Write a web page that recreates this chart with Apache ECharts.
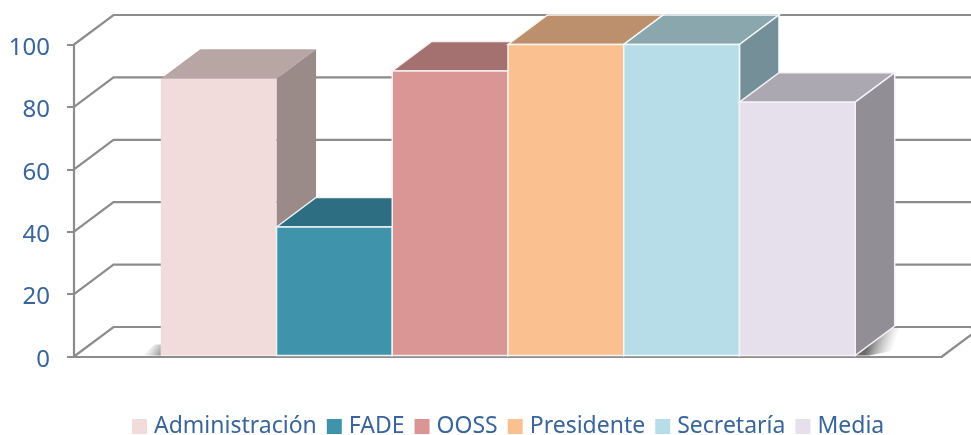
<!DOCTYPE html>
<html>
<head>
<meta charset="utf-8">
<style>
  html, body { margin: 0; padding: 0; background: #fff; }
  #chart { width: 971px; height: 435px; }
</style>
<script src="https://cdn.jsdelivr.net/npm/echarts@6/dist/echarts.min.js"></script>
</head>
<body>
<div id="chart"></div>
<script>
const categories = ['Administración', 'FADE', 'OOSS', 'Presidente', 'Secretaría', 'Media'];
const values = [89, 41.5, 91.5, 100, 100, 81.5];
const yTicks = [0, 20, 40, 60, 80, 100];

const frontColors = ['#F2DCDB', '#3F94AC', '#DA9694', '#FAC090', '#B7DEE8', '#E6E0EC'];
const topColors = ['#B8A6A5', '#2E6E82', '#A57070', '#BC906C', '#8AA7AE', '#ACA8B1'];
const sideColors = ['#9A8A88', '#275C6D', '#895D5C', '#9D785A', '#748F97', '#918E96'];
const edgeColors = ['transparent', '#EEF3F5', '#F4F0F0', '#FBF3EC', '#F3F8FA', '#F4F2F6'];

const DEPTH_X = 39.5;
const DEPTH_Y = 29.5;
const AXIS_GREY = '#8C8C8C';
const TEXT_BLUE = '#3A659B';
const FONT = '"Noto Sans", sans-serif';

const chart = echarts.init(document.getElementById('chart'), null, { renderer: 'canvas' });

function poly(points, fill, stroke, lineWidth) {
  return {
    type: 'polygon',
    shape: { points: points },
    style: { fill: fill, stroke: stroke, lineWidth: lineWidth || 0 }
  };
}

function fade(x, y, x2, y2, alpha) {
  return {
    type: 'linear', global: true, x: x, y: y, x2: x2, y2: y2,
    colorStops: [{ offset: 0, color: 'rgba(70,70,70,' + alpha + ')' }, { offset: 1, color: 'rgba(150,150,150,0)' }]
  };
}

// back wall and floor lines, one per tick
function renderWall(params, api) {
  const v = api.value(0);
  const y = api.coord(['all', v])[1];
  const x0 = params.coordSys.x;
  const right = x0 + params.coordSys.width;
  const children = [{
    type: 'polyline',
    shape: { points: [[x0, y], [x0 + DEPTH_X, y - DEPTH_Y], [right + DEPTH_X, y - DEPTH_Y]] },
    style: { fill: null, stroke: AXIS_GREY, lineWidth: 2.2 }
  }];
  if (v === 0) {
    children.push({
      type: 'line',
      shape: { x1: right, y1: y, x2: right + DEPTH_X, y2: y - DEPTH_Y },
      style: { stroke: AXIS_GREY, lineWidth: 2.2 }
    });
  }
  return { type: 'group', children: children };
}

function makeBarRenderer(i) {
  return function (params, api) {
    const band = api.size(['all', 0])[0];
    const barW = band * 0.8 / categories.length;
    const center = api.coord(['all', 0])[0];
    const x1 = center - band * 0.4 + barW * i;
    const x2 = x1 + barW;
    const yTop = api.coord(['all', api.value(0)])[1];
    const yBase = api.coord(['all', 0])[1] - 1;
    const e = edgeColors[i];
    const children = [];
    // soft floor shadow on the two outer bars
    if (i === 0) {
      children.push(poly(
        [[x1 - 18, yBase], [x1 - 6, yBase - 11], [x1, yBase - 11], [x1, yBase]],
        fade(x1, yBase, x1 - 14, yBase - 8, 0.6)
      ));
    }
    if (i === categories.length - 1) {
      children.push(poly(
        [[x2, yBase], [x2 + DEPTH_X, yBase - DEPTH_Y], [x2 + DEPTH_X + 22, yBase - DEPTH_Y], [x2 + 44, yBase - 6], [x2 + 14, yBase]],
        fade(x2 + 14, yBase - 14, x2 + 38, yBase - 6, 0.8)
      ));
    }
    children.push(
      poly([[x1, yTop], [x1 + DEPTH_X, yTop - DEPTH_Y], [x2 + DEPTH_X, yTop - DEPTH_Y], [x2, yTop]], topColors[i], e, 1.5),
      poly([[x2, yTop], [x2 + DEPTH_X, yTop - DEPTH_Y], [x2 + DEPTH_X, yBase - DEPTH_Y], [x2, yBase]], sideColors[i], e, 1.5),
      poly([[x1, yTop], [x2, yTop], [x2, yBase], [x1, yBase]], frontColors[i], e, 1.5)
    );
    return { type: 'group', children: children };
  };
}

const barSeries = categories.map((name, i) => ({
  name: name,
  type: 'custom',
  coordinateSystem: 'cartesian2d',
  itemStyle: { color: frontColors[i] },
  encode: { y: 0 },
  clip: false,
  z: 3,
  renderItem: makeBarRenderer(i),
  data: [[values[i]]]
}));

chart.setOption({
  animation: false,
  backgroundColor: '#ffffff',
  grid: { left: 74, right: 29, top: 44.5, bottom: 78.5 },
  legend: {
    data: categories,
    left: 127,
    top: 410,
    icon: 'rect',
    itemWidth: 15,
    itemHeight: 15,
    itemGap: 10,
    textStyle: { color: TEXT_BLUE, fontSize: 23, fontFamily: FONT, padding: [0, 0, 0, 2] }
  },
  xAxis: {
    type: 'category',
    data: ['all'],
    axisLine: { lineStyle: { color: AXIS_GREY, width: 2.2 } },
    axisTick: { show: false },
    axisLabel: { show: false },
    splitLine: { show: false }
  },
  yAxis: {
    type: 'value',
    min: 0,
    max: 100,
    interval: 20,
    axisLine: { show: true, lineStyle: { color: AXIS_GREY, width: 2.2 } },
    axisTick: { show: true, length: 7, lineStyle: { color: AXIS_GREY, width: 2 } },
    axisLabel: {
      margin: 24,
      formatter: '{v|{value}}',
      rich: { v: { color: TEXT_BLUE, fontSize: 24, fontFamily: FONT, padding: [7, 0, 0, 0] } }
    },
    splitLine: { show: false }
  },
  series: [{
    name: 'walls',
    type: 'custom',
    coordinateSystem: 'cartesian2d',
    encode: { y: 0 },
    clip: false,
    z: 1,
    silent: true,
    renderItem: renderWall,
    data: yTicks.map(t => [t])
  }].concat(barSeries)
});
</script>
</body>
</html>
